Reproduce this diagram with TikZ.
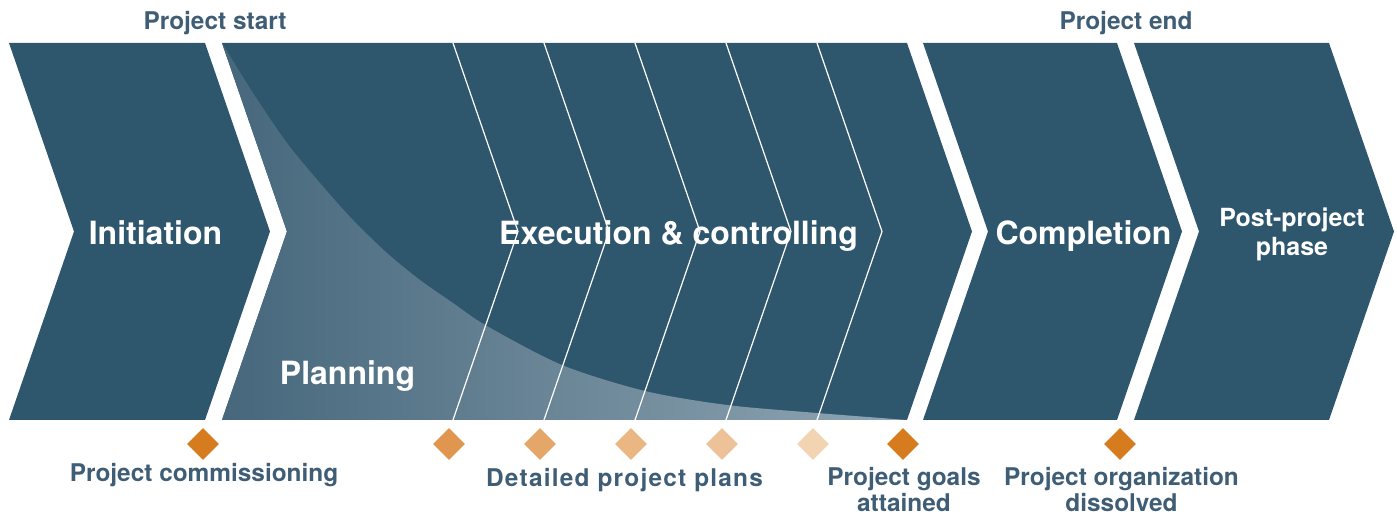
\documentclass[tikz,border=0pt]{standalone}
\usepackage{fontspec}
\setmainfont{TeX Gyre Heros}
\usepackage{tikz}
\usetikzlibrary{shapes.geometric}
\definecolor{phaseBlue}{HTML}{2E576E}
\definecolor{labelBlue}{HTML}{3F5E76}
\definecolor{planLeft}{HTML}{46677C}
\definecolor{planRight}{HTML}{90A6B3}
\definecolor{msOrange}{HTML}{D67B1E}
\definecolor{msA}{HTML}{E0964E}
\definecolor{msB}{HTML}{E5A769}
\definecolor{msC}{HTML}{EAB682}
\definecolor{msD}{HTML}{EDC299}
\definecolor{msE}{HTML}{F2D3B2}
\newcommand{\phasechevron}[2]{\fill[phaseBlue] (#1,43) -- (#2,43) -- ++(65,188.5) -- (#2,420) -- (#1,420) -- ++(65,-188.5) -- cycle;}

\begin{document}
\begin{tikzpicture}[x=0.5pt, y=-0.5pt,
    phase/.style={text=white, inner sep=0pt, font=\fontsize{16}{19}\selectfont\bfseries},
    caption/.style={text=labelBlue, inner sep=0pt, align=center, font=\fontsize{12.2}{13}\selectfont\bfseries},
    milestone/.style={diamond, minimum width=16pt, minimum height=16pt, inner sep=0pt},
    sepline/.style={white, line width=0.6pt}]
    \useasboundingbox (0,0) rectangle (1397,517);

    \phasechevron{9}{205}
    \phasechevron{222}{907}
    \phasechevron{923}{1117}
    \phasechevron{1134}{1329}

    \shade[left color=planLeft, right color=planRight]
        plot[smooth, tension=0.5] coordinates {(222,43) (253,93) (287,143) (320,183) (353,220) (387,253) (420,280) (453,303) (487,326) (562,365) (645,391) (727,405) (817,413) (907,420)}
        -- (222,420) -- (287,231.5) -- cycle;

    \foreach \x in {453,544,635,726,817}
        \draw[sepline] (\x,43) -- ++(65,188.5) -- (\x,420);

    \node[caption, anchor=base] (start) at (215,30) {Project start};
    \node[caption, anchor=base] (end) at (1126,30) {Project end};

    \node[phase, anchor=base] (initiation) at (155.5,245) {Initiation};
    \node[phase, anchor=base] (execution) at (678.5,245) {Execution \& controlling};
    \node[phase, anchor=base] (completion) at (1083.5,245) {Completion};
    \node[phase, anchor=base] (planning) at (347.5,385) {Planning};
    \node[phase, anchor=base, align=center, font=\fontsize{12.5}{14.5}\selectfont\bfseries] (post) at (1292,256) {Post-project\\phase};

    \node[milestone, fill=msOrange] (commission) at (203,444) {};
    \foreach \x/\c [count=\i] in {449/msA, 540/msB, 631/msC, 722/msD, 813/msE}
        \node[milestone, fill=\c] (plan\i) at (\x,444) {};
    \node[milestone, fill=msOrange] (goals) at (903,444) {};
    \node[milestone, fill=msOrange] (dissolve) at (1120,444) {};

    \node[caption, anchor=base] (commissionlabel) at (204,482) {Project commissioning};
    \node[caption, anchor=base, font=\fontsize{12.2}{13}\selectfont\bfseries\addfontfeature{LetterSpace=5}] (planlabel) at (624.5,487) {Detailed project plans};
    \node[caption, anchor=base] (goalslabel) at (904,512) {Project goals\\attained};
    \node[caption, anchor=base] (dissolvelabel) at (1121.5,512) {Project organization\\dissolved};
\end{tikzpicture}
\end{document}
